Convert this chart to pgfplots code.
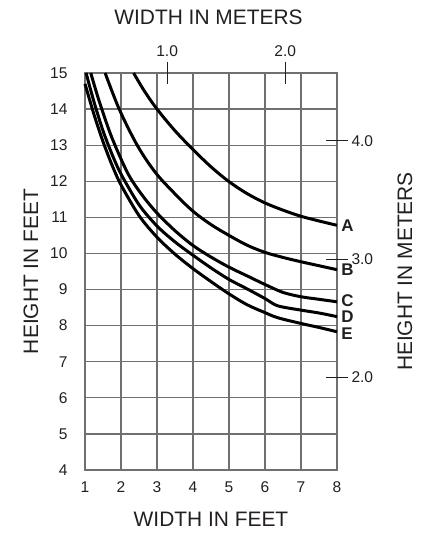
\documentclass[border=0pt]{standalone}
\usepackage{pgfplots}
\pgfplotsset{compat=1.18}
\usepackage{fontspec}
\setmainfont{Liberation Sans}
\definecolor{txt}{HTML}{231F20}
\definecolor{gridc}{HTML}{707070}
\tikzset{curvelab/.style={anchor=west, inner sep=0bp, xshift=3bp, text=txt, font=\bfseries\fontsize{17}{17}\selectfont}}
\begin{document}
\begin{tikzpicture}
\begin{axis}[
  at={(0,0)}, anchor=south west,
  width=252bp, height=397bp, scale only axis,
  xmin=1, xmax=8, ymin=4, ymax=15,
  xtick={1,...,8}, ytick={4,...,15},
  grid=major, grid style={gridc, line width=1.2bp},
  axis line style={gridc, line width=1.2bp},
  major tick length=0pt,
  clip=false,
  /pgf/number format/assume math mode=true,
  tick label style={font=\fontsize{15.6}{18}\selectfont, text=txt},
  xticklabel style={anchor=north, yshift=-8bp},
  yticklabel style={anchor=east, xshift=-14bp},
  label style={font=\fontsize{21}{24}\selectfont, text=txt},
  xlabel={WIDTH IN FEET},
  ylabel={HEIGHT IN FEET},
  xlabel style={at={(axis description cs:0.5,-0.125)}, anchor=center},
  ylabel style={at={(axis description cs:-0.215,0.5)}, anchor=center, rotate=0},
]
\addplot[black, line width=3bp, smooth, tension=0.55] coordinates {
 (2.35,15) (2.65,14.5) (3,14.0) (3.5,13.4) (4,12.88) (4.5,12.4) (5,11.99) (5.5,11.66) (6,11.4) (6.5,11.2) (7,11.03) (7.5,10.9) (8,10.78)
} node[pos=1, curvelab] {A};
\addplot[black, line width=3bp, smooth, tension=0.55] coordinates {
 (1.56,15) (1.95,14) (2.45,13) (2.95,12.25) (3.5,11.65) (4,11.17) (4.5,10.8) (5,10.5) (5.5,10.23) (6,10.03) (6.5,9.89) (7,9.77) (7.5,9.66) (8,9.55)
} node[pos=1, curvelab] {B};
\addplot[black, line width=3bp, smooth, tension=0.5] coordinates {
 (1.16,15) (1.4,14.2) (1.75,13.2) (2.2,12.2) (2.6,11.6) (3,11.12) (3.5,10.63) (4,10.22) (4.5,9.9) (5,9.62) (5.5,9.38) (6,9.14) (6.5,8.92) (7,8.8) (7.5,8.73) (8,8.66)
} node[pos=1, curvelab, yshift=1bp] {C};
\addplot[black, line width=3bp, smooth, tension=0.5] coordinates {
 (1.03,15) (1.25,14.2) (1.5,13.4) (1.75,12.75) (2,12.2) (2.5,11.35) (3,10.76) (3.5,10.32) (4,9.95) (4.5,9.6) (5,9.28) (5.5,9.02) (6,8.75) (6.35,8.55) (7,8.43) (7.5,8.35) (8,8.25)
} node[pos=1, curvelab] {D};
\addplot[black, line width=3bp, smooth, tension=0.5] coordinates {
 (1,14.7) (1.25,13.85) (1.5,13.1) (1.75,12.45) (2,11.9) (2.5,11.05) (3,10.45) (3.5,9.98) (4,9.58) (4.5,9.22) (5,8.88) (5.5,8.58) (6,8.36) (6.35,8.22) (7,8.06) (7.5,7.95) (8,7.83)
} node[pos=1, curvelab, yshift=-2bp] {E};
\end{axis}
\begin{axis}[
  at={(0,0)}, anchor=south west,
  width=252bp, height=397bp, scale only axis,
  xmin=1, xmax=8, ymin=4, ymax=15,
  axis x line*=top, axis y line*=right,
  axis line style={draw=none},
  xtick={3.2808,6.5617}, xticklabels={1.0,2.0},
  ytick={6.5617,9.8425,13.1234}, yticklabels={2.0,3.0,4.0},
  tick align=center, major tick length=22bp,
  tick style={txt, line width=0.9bp},
  tick label style={font=\fontsize{15.6}{18}\selectfont, text=txt},
  xticklabel style={anchor=south, yshift=2bp},
  yticklabel style={anchor=west, xshift=0bp},
  label style={font=\fontsize{21}{24}\selectfont, text=txt},
  xlabel={WIDTH IN METERS},
  ylabel={HEIGHT IN METERS},
  xlabel style={at={(axis description cs:0.49,1.14)}, anchor=center},
  ylabel style={at={(axis description cs:1.27,0.5)}, anchor=center, rotate=0},
]
\end{axis}
\pgfresetboundingbox
\path[use as bounding box] (-85bp,-66bp) rectangle (338bp,470bp);
\end{tikzpicture}
\end{document}
